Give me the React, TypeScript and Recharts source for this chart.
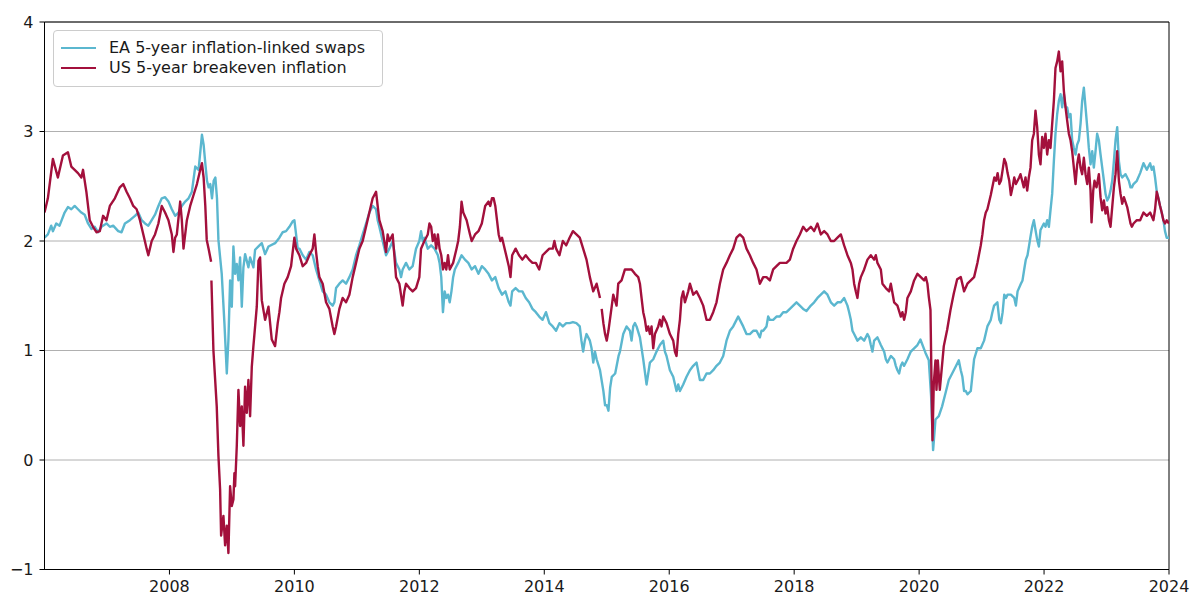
import React from 'react';
import { LineChart, Line, XAxis, YAxis, CartesianGrid, ReferenceArea, Legend } from 'recharts';

type Pt = [number, number | null];

// ---- EA 5-year inflation-linked swaps (decimal year, %) ----
const ea2006_2008: Pt[] = [[2006.000,2.03],[2006.054,2.06],[2006.107,2.14],[2006.134,2.09],[2006.188,2.16],[2006.241,2.14],[2006.322,2.26],[2006.375,2.31],[2006.429,2.29],[2006.483,2.32],[2006.536,2.29],[2006.590,2.26],[2006.643,2.24],[2006.697,2.16],[2006.751,2.11],[2006.804,2.13],[2006.858,2.08],[2006.912,2.13],[2006.992,2.16],[2007.046,2.13],[2007.099,2.14],[2007.180,2.09],[2007.233,2.08],[2007.287,2.16],[2007.367,2.19],[2007.448,2.23],[2007.501,2.26],[2007.555,2.19],[2007.609,2.16],[2007.662,2.14],[2007.716,2.19],[2007.769,2.24],[2007.823,2.32],[2007.877,2.39],[2007.930,2.40],[2007.984,2.36],[2008.038,2.29],[2008.091,2.23],[2008.145,2.26],[2008.198,2.32],[2008.252,2.36],[2008.306,2.39],[2008.359,2.45],[2008.413,2.68],[2008.466,2.65],[2008.520,2.97],[2008.547,2.88],[2008.574,2.71],[2008.601,2.55],[2008.627,2.49],[2008.654,2.52],[2008.681,2.39],[2008.708,2.55],[2008.735,2.58],[2008.761,2.39],[2008.784,2.01]];
const ea2008_2009: Pt[] = [[2008.837,1.70],[2008.880,1.25],[2008.918,0.79],[2008.944,1.10],[2008.971,1.64],[2008.998,1.40],[2009.024,1.95],[2009.051,1.70],[2009.078,1.79],[2009.104,1.64],[2009.131,1.85],[2009.158,1.40],[2009.184,1.76],[2009.211,1.88],[2009.264,1.76],[2009.291,1.85],[2009.344,1.76],[2009.371,1.92],[2009.425,1.95],[2009.478,1.98],[2009.531,1.88],[2009.585,1.95],[2009.691,1.98]];
const ea2009_2011: Pt[] = [[2009.760,2.03],[2009.813,2.08],[2009.867,2.09],[2009.920,2.13],[2009.973,2.18],[2010.000,2.19],[2010.027,2.06],[2010.053,1.93],[2010.080,1.93],[2010.133,1.87],[2010.187,1.83],[2010.240,1.90],[2010.293,1.87],[2010.347,1.74],[2010.400,1.64],[2010.453,1.54],[2010.507,1.51],[2010.560,1.44],[2010.613,1.41],[2010.640,1.44],[2010.667,1.57],[2010.720,1.61],[2010.773,1.64],[2010.827,1.61],[2010.880,1.67],[2010.933,1.74],[2010.987,1.87],[2011.040,1.96],[2011.093,2.06],[2011.147,2.16],[2011.200,2.26],[2011.253,2.32],[2011.307,2.29],[2011.333,2.19],[2011.360,2.13],[2011.413,2.00],[2011.467,1.87],[2011.520,1.93],[2011.573,2.00],[2011.627,1.80],[2011.680,1.74],[2011.707,1.67],[2011.733,1.74],[2011.787,1.80],[2011.840,1.74],[2011.893,1.77],[2011.947,1.93],[2012.000,2.00]];
const ea2012_2014: Pt[] = [[2012.027,2.09],[2012.054,2.00],[2012.081,2.03],[2012.135,1.93],[2012.189,1.96],[2012.243,1.93],[2012.297,1.87],[2012.324,1.80],[2012.351,1.67],[2012.378,1.35],[2012.405,1.54],[2012.432,1.48],[2012.459,1.51],[2012.486,1.44],[2012.514,1.54],[2012.541,1.67],[2012.568,1.74],[2012.622,1.80],[2012.676,1.87],[2012.730,1.83],[2012.784,1.80],[2012.838,1.74],[2012.892,1.77],[2012.946,1.70],[2013.000,1.77],[2013.054,1.74],[2013.108,1.70],[2013.162,1.64],[2013.216,1.67],[2013.270,1.57],[2013.324,1.51],[2013.378,1.54],[2013.432,1.44],[2013.459,1.41],[2013.486,1.54],[2013.541,1.57],[2013.595,1.54],[2013.649,1.54],[2013.703,1.48],[2013.757,1.44],[2013.811,1.38],[2013.865,1.35],[2013.919,1.31],[2013.973,1.28],[2014.027,1.35],[2014.081,1.25],[2014.135,1.22],[2014.189,1.18],[2014.243,1.25],[2014.297,1.22],[2014.351,1.25],[2014.405,1.25],[2014.459,1.26],[2014.514,1.25],[2014.568,1.22],[2014.595,1.09],[2014.622,0.99],[2014.649,1.09],[2014.676,1.15],[2014.730,1.09],[2014.757,1.02],[2014.784,0.89],[2014.811,0.99],[2014.838,0.92],[2014.892,0.82],[2014.946,0.63],[2014.973,0.50],[2015.000,0.50],[2015.027,0.45],[2015.054,0.66],[2015.081,0.76],[2015.135,0.79],[2015.189,0.95]];
const ea2015_2017: Pt[] = [[2015.211,0.99],[2015.264,1.15],[2015.317,1.22],[2015.371,1.18],[2015.397,1.09],[2015.424,1.22],[2015.451,1.25],[2015.477,1.22],[2015.531,1.12],[2015.584,0.92],[2015.637,0.69],[2015.664,0.79],[2015.691,0.89],[2015.744,0.92],[2015.797,0.99],[2015.851,1.05],[2015.904,1.09],[2015.931,0.99],[2015.957,0.95],[2016.011,0.82],[2016.064,0.76],[2016.117,0.63],[2016.144,0.69],[2016.171,0.63],[2016.224,0.69],[2016.277,0.76],[2016.331,0.82],[2016.384,0.86],[2016.437,0.89],[2016.491,0.73],[2016.544,0.73],[2016.597,0.79],[2016.651,0.79],[2016.704,0.82],[2016.757,0.86],[2016.811,0.89],[2016.864,0.95],[2016.917,1.09],[2016.971,1.18],[2017.024,1.22],[2017.077,1.28],[2017.104,1.31],[2017.131,1.28],[2017.184,1.22],[2017.237,1.15],[2017.291,1.15],[2017.344,1.18],[2017.397,1.18],[2017.451,1.12],[2017.477,1.18],[2017.504,1.18],[2017.557,1.22],[2017.584,1.31],[2017.611,1.28],[2017.664,1.28],[2017.717,1.31],[2017.771,1.31],[2017.824,1.35],[2017.877,1.35],[2017.931,1.38],[2017.984,1.41],[2018.037,1.44],[2018.091,1.41],[2018.144,1.38],[2018.197,1.36]];
const ea2018_2021: Pt[] = [[2018.267,1.41],[2018.320,1.44],[2018.373,1.48],[2018.427,1.51],[2018.480,1.54],[2018.533,1.51],[2018.587,1.44],[2018.640,1.41],[2018.693,1.44],[2018.747,1.44],[2018.800,1.48],[2018.853,1.41],[2018.880,1.35],[2018.907,1.28],[2018.933,1.18],[2018.960,1.15],[2018.987,1.12],[2019.013,1.09],[2019.067,1.12],[2019.120,1.09],[2019.173,1.15],[2019.200,1.12],[2019.227,1.05],[2019.253,0.99],[2019.280,1.09],[2019.333,1.12],[2019.387,1.05],[2019.440,0.99],[2019.467,0.92],[2019.493,0.89],[2019.547,0.95],[2019.600,0.92],[2019.627,0.86],[2019.653,0.82],[2019.680,0.79],[2019.707,0.86],[2019.733,0.89],[2019.760,0.86],[2019.813,0.92],[2019.867,0.99],[2019.920,1.02],[2019.973,1.05],[2020.021,1.10],[2020.101,0.98],[2020.155,0.91],[2020.192,0.58],[2020.224,0.09],[2020.262,0.37],[2020.315,0.40],[2020.368,0.49],[2020.422,0.61],[2020.475,0.73],[2020.529,0.79],[2020.582,0.85],[2020.635,0.91],[2020.667,0.82],[2020.693,0.76],[2020.720,0.63],[2020.747,0.63],[2020.773,0.60],[2020.827,0.63],[2020.880,0.92],[2020.933,1.02],[2020.987,1.02],[2021.040,1.09],[2021.093,1.22],[2021.147,1.28],[2021.173,1.35],[2021.200,1.41],[2021.253,1.44],[2021.284,1.28],[2021.310,1.25],[2021.337,1.35],[2021.363,1.51],[2021.390,1.48],[2021.416,1.51],[2021.469,1.51],[2021.523,1.48],[2021.549,1.41],[2021.576,1.54],[2021.629,1.61],[2021.655,1.64],[2021.682,1.74],[2021.708,1.83],[2021.735,1.87],[2021.761,1.96]];
const ea2021_2024: Pt[] = [[2021.783,2.04],[2021.810,2.13],[2021.837,2.19],[2021.863,2.10],[2021.890,2.01],[2021.917,1.95],[2021.943,2.10],[2021.970,2.13],[2021.997,2.16],[2022.023,2.13],[2022.050,2.19],[2022.077,2.13],[2022.103,2.28],[2022.130,2.43],[2022.157,2.73],[2022.183,2.98],[2022.210,3.16],[2022.237,3.28],[2022.264,3.34],[2022.290,3.22],[2022.317,3.34],[2022.344,3.22],[2022.370,3.22],[2022.397,3.13],[2022.424,3.16],[2022.450,2.92],[2022.477,2.85],[2022.504,2.79],[2022.530,2.88],[2022.557,2.92],[2022.584,3.07],[2022.610,3.28],[2022.637,3.40],[2022.664,3.22],[2022.691,3.04],[2022.717,2.85],[2022.744,2.70],[2022.771,2.82],[2022.797,2.67],[2022.824,2.82],[2022.850,2.98],[2022.877,2.92],[2022.904,2.79],[2022.931,2.67],[2022.958,2.55],[2022.984,2.43],[2023.011,2.37],[2023.038,2.40],[2023.064,2.46],[2023.091,2.55],[2023.118,2.73],[2023.144,2.92],[2023.171,3.04],[2023.198,2.73],[2023.224,2.61],[2023.251,2.58],[2023.304,2.61],[2023.357,2.55],[2023.384,2.49],[2023.406,2.49],[2023.432,2.52],[2023.485,2.55],[2023.538,2.62],[2023.592,2.71],[2023.618,2.68],[2023.645,2.65],[2023.671,2.68],[2023.698,2.71],[2023.724,2.65],[2023.751,2.68],[2023.777,2.58],[2023.804,2.45],[2023.830,2.39],[2023.857,2.32],[2023.883,2.26],[2023.910,2.19],[2023.936,2.09],[2023.963,2.03],[2024.000,2.03]];

// ---- US 5-year breakeven inflation (decimal year, %; null = gap in data) ----
const us2006_2008: Pt[] = [[2006.000,2.26],[2006.054,2.39],[2006.134,2.75],[2006.214,2.58],[2006.295,2.78],[2006.375,2.81],[2006.429,2.68],[2006.483,2.65],[2006.536,2.62],[2006.590,2.58],[2006.617,2.65],[2006.670,2.45],[2006.724,2.19],[2006.777,2.13],[2006.831,2.08],[2006.885,2.09],[2006.938,2.23],[2006.992,2.19],[2007.046,2.32],[2007.126,2.39],[2007.206,2.49],[2007.260,2.52],[2007.314,2.45],[2007.367,2.39],[2007.421,2.32],[2007.475,2.29],[2007.528,2.19],[2007.582,2.06],[2007.635,1.93],[2007.662,1.87],[2007.716,2.00],[2007.769,2.06],[2007.823,2.16],[2007.877,2.32],[2007.930,2.26],[2007.984,2.19],[2008.038,2.06],[2008.064,1.90],[2008.091,2.03],[2008.118,2.06],[2008.172,2.36],[2008.198,2.19],[2008.225,1.93],[2008.279,2.19],[2008.332,2.32],[2008.386,2.42],[2008.440,2.52],[2008.493,2.65],[2008.520,2.71],[2008.547,2.58],[2008.574,2.32],[2008.597,2.01],[2008.630,1.92],[2008.667,1.81],[2008.669,null]];
const us2008_2009: Pt[] = [[2008.672,1.64],[2008.704,1.00],[2008.757,0.49],[2008.784,0.04],[2008.811,-0.27],[2008.827,-0.69],[2008.864,-0.51],[2008.891,-0.78],[2008.918,-0.60],[2008.944,-0.85],[2008.971,-0.24],[2008.998,-0.42],[2009.024,-0.36],[2009.040,-0.12],[2009.051,-0.24],[2009.078,0.13],[2009.104,0.64],[2009.131,0.31],[2009.158,0.49],[2009.184,0.13],[2009.211,0.67],[2009.238,0.43],[2009.264,0.73],[2009.291,0.40],[2009.318,0.85],[2009.344,1.04],[2009.371,1.22],[2009.398,1.40],[2009.425,1.82],[2009.451,1.85],[2009.478,1.46],[2009.531,1.28],[2009.585,1.40],[2009.638,1.10],[2009.691,1.04]];
const us2009_2011: Pt[] = [[2009.733,1.25],[2009.760,1.35],[2009.787,1.48],[2009.840,1.61],[2009.893,1.67],[2009.947,1.77],[2009.973,1.90],[2010.000,2.03],[2010.027,1.93],[2010.080,1.87],[2010.133,1.77],[2010.187,1.80],[2010.240,1.87],[2010.293,1.93],[2010.320,2.06],[2010.347,1.90],[2010.373,1.77],[2010.400,1.67],[2010.453,1.61],[2010.507,1.44],[2010.560,1.38],[2010.613,1.22],[2010.640,1.15],[2010.667,1.22],[2010.720,1.38],[2010.773,1.48],[2010.827,1.44],[2010.880,1.51],[2010.933,1.67],[2010.987,1.80],[2011.040,1.93],[2011.093,2.00],[2011.147,2.13],[2011.200,2.26],[2011.253,2.39],[2011.307,2.45],[2011.333,2.32],[2011.360,2.19],[2011.413,2.09],[2011.467,1.90],[2011.493,2.06],[2011.520,2.00],[2011.573,2.06],[2011.600,1.87],[2011.627,1.67],[2011.680,1.61],[2011.733,1.41],[2011.760,1.54],[2011.787,1.61],[2011.840,1.57],[2011.893,1.54],[2011.947,1.57],[2012.000,1.67]];
const us2012_2014: Pt[] = [[2012.027,1.93],[2012.081,2.00],[2012.135,2.06],[2012.162,2.16],[2012.189,2.13],[2012.216,2.00],[2012.243,2.06],[2012.270,1.93],[2012.297,2.06],[2012.324,1.93],[2012.351,1.87],[2012.378,1.74],[2012.405,1.80],[2012.432,1.74],[2012.459,1.87],[2012.486,1.74],[2012.541,1.80],[2012.595,1.93],[2012.622,2.00],[2012.649,2.13],[2012.676,2.36],[2012.703,2.26],[2012.757,2.19],[2012.811,2.06],[2012.838,2.00],[2012.892,2.06],[2012.946,2.09],[2013.000,2.16],[2013.054,2.32],[2013.108,2.36],[2013.135,2.32],[2013.162,2.39],[2013.189,2.39],[2013.216,2.32],[2013.243,2.19],[2013.270,2.06],[2013.297,2.00],[2013.324,2.03],[2013.378,1.90],[2013.432,1.77],[2013.459,1.67],[2013.486,1.87],[2013.541,1.93],[2013.595,1.87],[2013.649,1.83],[2013.703,1.87],[2013.757,1.83],[2013.811,1.80],[2013.865,1.80],[2013.919,1.74],[2013.973,1.87],[2014.027,1.90],[2014.081,1.93],[2014.135,1.93],[2014.162,2.00],[2014.189,1.93],[2014.243,1.87],[2014.297,2.00],[2014.351,1.96],[2014.405,2.03],[2014.459,2.09],[2014.514,2.06],[2014.568,2.03],[2014.622,1.93],[2014.676,1.83],[2014.730,1.67],[2014.784,1.54],[2014.838,1.61],[2014.892,1.48],[2014.905,null],[2014.919,1.38],[2014.946,1.25],[2014.973,1.15],[2015.000,1.09],[2015.027,1.18],[2015.081,1.41],[2015.104,1.51],[2015.157,1.41],[2015.184,1.61]];
const us2015_2017: Pt[] = [[2015.237,1.64],[2015.291,1.74],[2015.344,1.74],[2015.397,1.74],[2015.451,1.70],[2015.504,1.67],[2015.531,1.61],[2015.557,1.48],[2015.584,1.35],[2015.611,1.28],[2015.637,1.18],[2015.664,1.22],[2015.691,1.15],[2015.717,1.22],[2015.744,1.02],[2015.771,1.15],[2015.824,1.22],[2015.851,1.28],[2015.877,1.22],[2015.904,1.31],[2015.957,1.25],[2016.011,1.15],[2016.064,1.09],[2016.091,0.99],[2016.117,0.95],[2016.144,1.15],[2016.171,1.28],[2016.197,1.48],[2016.224,1.54],[2016.251,1.44],[2016.304,1.54],[2016.331,1.61],[2016.384,1.51],[2016.437,1.54],[2016.491,1.48],[2016.544,1.41],[2016.597,1.28],[2016.651,1.28],[2016.704,1.35],[2016.757,1.44],[2016.811,1.61],[2016.864,1.74],[2016.917,1.80],[2016.971,1.87],[2017.024,1.93],[2017.077,2.03],[2017.131,2.06],[2017.184,2.03],[2017.237,1.93],[2017.291,1.87],[2017.344,1.80],[2017.397,1.74],[2017.451,1.61],[2017.504,1.67],[2017.557,1.67],[2017.611,1.64],[2017.664,1.74],[2017.717,1.77],[2017.771,1.80],[2017.824,1.80],[2017.877,1.80],[2017.931,1.83],[2017.984,1.93],[2018.037,2.00],[2018.091,2.06],[2018.144,2.13],[2018.197,2.09]];
const us2018_2021: Pt[] = [[2018.267,2.13],[2018.320,2.09],[2018.373,2.16],[2018.427,2.06],[2018.480,2.09],[2018.533,2.06],[2018.587,2.00],[2018.640,2.00],[2018.693,2.03],[2018.747,2.06],[2018.800,1.96],[2018.853,1.87],[2018.907,1.80],[2018.933,1.74],[2018.960,1.61],[2018.987,1.54],[2019.013,1.48],[2019.040,1.61],[2019.067,1.67],[2019.120,1.74],[2019.173,1.83],[2019.227,1.87],[2019.280,1.83],[2019.307,1.87],[2019.333,1.80],[2019.387,1.74],[2019.413,1.61],[2019.467,1.57],[2019.520,1.54],[2019.547,1.61],[2019.600,1.44],[2019.653,1.41],[2019.707,1.31],[2019.733,1.35],[2019.760,1.28],[2019.787,1.35],[2019.813,1.48],[2019.867,1.54],[2019.920,1.64],[2019.973,1.70],[2020.027,1.67],[2020.080,1.64],[2020.107,1.67],[2020.133,1.61],[2020.155,1.49],[2020.182,1.37],[2020.198,0.73],[2020.214,0.18],[2020.235,0.70],[2020.262,0.91],[2020.278,0.64],[2020.299,0.91],[2020.331,0.64],[2020.395,1.04],[2020.449,1.19],[2020.502,1.37],[2020.555,1.52],[2020.609,1.65],[2020.667,1.67],[2020.720,1.54],[2020.773,1.61],[2020.827,1.64],[2020.880,1.67],[2020.933,1.80],[2020.987,1.96],[2021.013,2.06],[2021.040,2.19],[2021.067,2.26],[2021.093,2.29],[2021.147,2.42],[2021.204,2.58],[2021.231,2.55],[2021.257,2.62],[2021.284,2.52],[2021.310,2.55],[2021.337,2.65],[2021.363,2.75],[2021.390,2.71],[2021.416,2.62],[2021.443,2.55],[2021.469,2.42],[2021.496,2.49],[2021.523,2.58],[2021.549,2.52],[2021.576,2.55],[2021.602,2.58]];
const us2021_2024: Pt[] = [[2021.623,2.61],[2021.676,2.49],[2021.703,2.58],[2021.730,2.46],[2021.756,2.58],[2021.783,2.67],[2021.810,2.92],[2021.837,2.98],[2021.863,3.19],[2021.890,3.04],[2021.917,2.79],[2021.943,2.70],[2021.970,2.95],[2021.997,2.85],[2022.023,2.98],[2022.050,2.79],[2022.077,2.92],[2022.103,2.85],[2022.130,3.07],[2022.157,3.28],[2022.183,3.58],[2022.210,3.64],[2022.237,3.73],[2022.264,3.55],[2022.290,3.64],[2022.317,3.37],[2022.344,3.22],[2022.370,3.10],[2022.397,2.98],[2022.424,2.92],[2022.450,2.82],[2022.477,2.67],[2022.504,2.52],[2022.530,2.70],[2022.557,2.79],[2022.584,2.67],[2022.610,2.61],[2022.637,2.76],[2022.664,2.61],[2022.691,2.52],[2022.717,2.67],[2022.744,2.46],[2022.760,2.17],[2022.787,2.46],[2022.808,2.55],[2022.840,2.49],[2022.877,2.61],[2022.904,2.40],[2022.931,2.28],[2022.958,2.37],[2022.984,2.25],[2023.011,2.31],[2023.038,2.19],[2023.064,2.13],[2023.091,2.31],[2023.118,2.49],[2023.144,2.61],[2023.171,2.82],[2023.198,2.55],[2023.224,2.43],[2023.251,2.34],[2023.278,2.40],[2023.331,2.31],[2023.384,2.16],[2023.406,2.13],[2023.432,2.16],[2023.485,2.19],[2023.538,2.19],[2023.592,2.26],[2023.645,2.23],[2023.698,2.26],[2023.751,2.19],[2023.777,2.29],[2023.804,2.45],[2023.830,2.39],[2023.857,2.32],[2023.883,2.26],[2023.910,2.19],[2023.936,2.16],[2023.963,2.19],[2024.000,2.16]];

// ---- axes ----
const xTicks = [2008, 2010, 2012, 2014, 2016, 2018, 2020, 2022, 2024];
const yTicks = [-1, 0, 1, 2, 3, 4];
const yTickLabels = ['\u22121', '0', '1', '2', '3', '4'];

const seriesNames = ['EA 5-year inflation-linked swaps', 'US 5-year breakeven inflation'];
const seriesColors = ['#5BB7CF', '#A3103C'];

const toRows = (segs: Pt[][]) => segs.flat().map(([t, v]) => ({ t, v }));
const eaData = toRows([ea2006_2008, ea2008_2009, ea2009_2011, ea2012_2014, ea2015_2017, ea2018_2021, ea2021_2024]);
const usData = toRows([us2006_2008, us2008_2009, us2009_2011, us2012_2014, us2015_2017, us2018_2021, us2021_2024]);

const FONT = '"DejaVu Sans", sans-serif';
const TEXT = '#1a1a1a';

const XTick = (props: any) => {
  const { x, y, payload } = props;
  return (
    <text x={x} y={y} dy={15.5} textAnchor="middle" fontFamily={FONT} fontSize={16} fill={TEXT}>
      {payload.value}
    </text>
  );
};

const YTick = (props: any) => {
  const { x, y, payload } = props;
  const i = yTicks.indexOf(payload.value);
  return (
    <text x={x} y={y} dy="0.36em" textAnchor="end" fontFamily={FONT} fontSize={16} fill={TEXT}>
      {yTickLabels[i]}
    </text>
  );
};

const LegendBox = () => (
  <div
    style={{
      position: 'relative',
      width: 330,
      height: 57,
      boxSizing: 'border-box',
      border: '1px solid #cccccc',
      borderRadius: 4,
      background: 'rgba(255,255,255,0.8)',
      fontFamily: FONT,
      fontSize: 16,
      color: TEXT,
    }}
  >
    {seriesNames.map((name, i) => (
      <div key={name} style={{ position: 'absolute', left: 0, top: 7 + i * 20, height: 20, width: '100%' }}>
        <div
          style={{
            position: 'absolute',
            left: 7,
            top: 9,
            width: 35,
            height: 2.4,
            background: seriesColors[i],
          }}
        />
        <span style={{ position: 'absolute', left: 55, top: 0, lineHeight: '20px', whiteSpace: 'nowrap' }}>{name}</span>
      </div>
    ))}
  </div>
);

export default function App() {
  return (
    <div style={{ position: 'absolute', left: 0, top: 0, width: 1190, height: 596, background: '#fff' }}>
      <LineChart width={1190} height={596} margin={{ top: 22, right: 21, bottom: 0, left: 0 }}>
        <CartesianGrid horizontal vertical={false} stroke="#b0b0b0" strokeWidth={1} />
        <XAxis
          dataKey="t"
          type="number"
          domain={[2006, 2024]}
          ticks={xTicks}
          allowDataOverflow
          height={26.5}
          tickSize={5}
          tickMargin={2}
          tick={<XTick />}
          tickLine={{ stroke: '#000' }}
          axisLine={{ stroke: '#000' }}
          interval={0}
        />
        <YAxis
          type="number"
          domain={[-1, 4]}
          ticks={yTicks}
          allowDataOverflow
          width={44.5}
          tickSize={5}
          tickMargin={6}
          tick={<YTick />}
          tickLine={{ stroke: '#000' }}
          axisLine={{ stroke: '#000' }}
          interval={0}
        />
        <Legend
          layout="horizontal"
          verticalAlign="middle"
          align="center"
          content={<LegendBox />}
          wrapperStyle={{ left: 53, top: 30, width: 330, height: 57 }}
        />
        <Line
          data={eaData}
          dataKey="v"
          name={seriesNames[0]}
          type="linear"
          stroke={seriesColors[0]}
          strokeWidth={2.4}
          dot={false}
          activeDot={false}
          connectNulls={false}
          isAnimationActive={false}
          strokeLinejoin="round"
        />
        <Line
          data={usData}
          dataKey="v"
          name={seriesNames[1]}
          type="linear"
          stroke={seriesColors[1]}
          strokeWidth={2.4}
          dot={false}
          activeDot={false}
          connectNulls={false}
          isAnimationActive={false}
          strokeLinejoin="round"
        />
        <ReferenceArea x1={2006} x2={2024} y1={-1} y2={4} fill="none" stroke="#000" strokeWidth={1} ifOverflow="visible" />
      </LineChart>
    </div>
  );
}
